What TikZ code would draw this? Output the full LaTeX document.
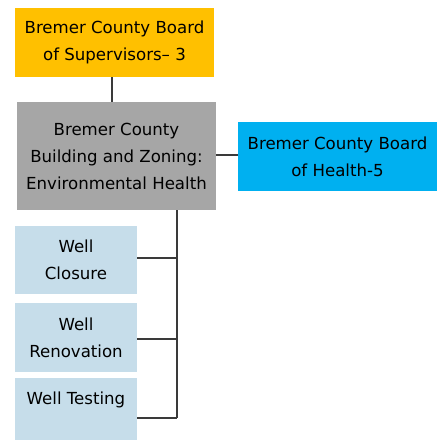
\documentclass[tikz,border=0pt]{standalone}
\usepackage{fontspec}
\setmainfont{DejaVu Sans}
\definecolor{supc}{HTML}{FFC000}
\definecolor{bzc}{HTML}{A6A6A6}
\definecolor{hlc}{HTML}{00B0F0}
\definecolor{lbc}{HTML}{C6DDEA}
\definecolor{linec}{HTML}{3A3A3A}
\begin{document}
\begin{tikzpicture}[x=1pt,y=-1pt,
  box/.style={draw=none,inner sep=0pt,align=center,font=\fontsize{16.6}{27}\selectfont},
  conn/.style={draw=linec,line width=1.4pt}]
\useasboundingbox (0,0) rectangle (437,441);
\node[box,fill=supc,minimum width=199pt,minimum height=69pt] (sup) at (114.5,42.5) {Bremer County Board\\of Supervisors-- 3};
\node[box,fill=bzc,minimum width=199pt,minimum height=108pt] (bz) at (116.5,156) {Bremer County\\Building and Zoning:\\Environmental Health};
\node[box,fill=hlc,minimum width=199pt,minimum height=69pt] (hl) at (337.5,156.5) {Bremer County Board\\of Health-5};
\node[box,fill=lbc,minimum width=122pt,minimum height=68pt] (wc) at (76,260) {Well\\Closure};
\node[box,fill=lbc,minimum width=122pt,minimum height=69pt] (wr) at (76,337.5) {Well\\Renovation};
\node[box,fill=lbc,minimum width=122pt,minimum height=62pt] (wt) at (76,409) {};
\node[box] (wtt) at (76,400) {Well Testing};
\coordinate (tb) at (177,210);
\coordinate (te) at (177,418);
\draw[conn] (sup.south -| 112,0) -- (bz.north -| 112,0);
\draw[conn] (bz.east |- 0,155) -- (hl.west |- 0,155);
\draw[conn] (tb) -- (te);
\draw[conn] (wc.east |- 0,258) -- (tb |- 0,258);
\draw[conn] (wr.east |- 0,339) -- (tb |- 0,339);
\draw[conn] (wt.east |- te) -- (te);
\end{tikzpicture}
\end{document}
